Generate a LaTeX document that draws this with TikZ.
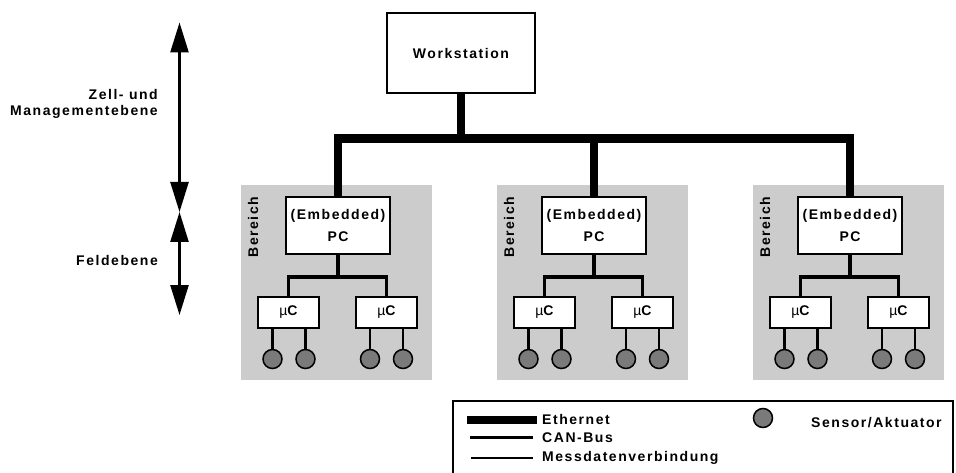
\documentclass[tikz,border=0pt]{standalone}
\usepackage{fontspec}
\setmainfont{Liberation Sans}[LetterSpace=11]
\usetikzlibrary{arrows.meta}
\definecolor{areagray}{HTML}{CCCCCC}
\definecolor{sensorgray}{HTML}{7A7A7A}
\begin{document}
\begin{tikzpicture}[x=1pt,y=-1pt,
  every node/.style={font=\fontsize{14}{16.5}\selectfont\bfseries, inner sep=0pt},
  box/.style={draw, line width=2pt, fill=white},
  area/.style={fill=areagray, draw=none},
  sensor/.style={circle, draw, line width=1.5pt, fill=sensorgray, minimum size=19pt},
  eth/.style={line width=8.5pt, line join=miter},
  can/.style={line width=3.5pt},
  mess/.style={line width=2.5pt},
  level/.style={line width=2.5pt, {Triangle[length=30pt,width=18pt]}-{Triangle[length=30pt,width=18pt]}},
  lbl/.style={align=right, anchor=east}
]
\useasboundingbox (0,0) rectangle (956,473);
\clip (0,0) rectangle (956,473);

% workstation
\node[box, minimum width=148pt, minimum height=80pt] (ws) at (461,53) {Workstation};
\coordinate (bus) at (461,138.5);

% three field areas
\foreach \i/\dx in {1/0,2/256,3/512}{
  \node[area, minimum width=191pt, minimum height=195pt] (area\i) at (336.5+\dx,282.5) {};
  \node[rotate=90] (ber\i) at (253+\dx,227) {Bereich};
  \node[box, minimum width=104pt, minimum height=57pt, align=center,
        font=\fontsize{14}{22}\selectfont\bfseries] (pc\i) at (338+\dx,225.5) {(Embedded)\\PC};
  \node[box, minimum width=61pt, minimum height=31pt] (ucl\i) at (288.5+\dx,312.5) {{\mdseries µ}C};
  \node[box, minimum width=61pt, minimum height=31pt] (ucr\i) at (386.5+\dx,312.5) {{\mdseries µ}C};
  \coordinate (can\i) at (338+\dx,277);
  \node[sensor] (s\i a) at (272.5+\dx,359) {};
  \node[sensor] (s\i b) at (305.5+\dx,359) {};
  \node[sensor] (s\i c) at (370+\dx,359) {};
  \node[sensor] (s\i d) at (403+\dx,359) {};
  % CAN bus
  \draw[can] (pc\i.south) -- (can\i);
  \draw[can, line join=miter] (ucl\i.north) -- (ucl\i.north |- can\i) -- (ucr\i.north |- can\i) -- (ucr\i.north);
  % measurement links
  \draw[mess] (s\i a.north) -- (s\i a.north |- ucl\i.south);
  \draw[mess] (s\i b.north) -- (s\i b.north |- ucl\i.south);
  \draw[mess] (s\i c.north) -- (s\i c.north |- ucr\i.south);
  \draw[mess] (s\i d.north) -- (s\i d.north |- ucr\i.south);
}

% Ethernet
\draw[eth] (ws.south) -- (bus);
\draw[eth] (pc1.north) -- (pc1.north |- bus) -- (pc3.north |- bus) -- (pc3.north);
\draw[eth] (pc2.north |- bus) -- (pc2.north);

% level arrows
\coordinate (lvtop) at (179.5,22.5);
\coordinate (lvmid) at (179.5,212);
\coordinate (lvbot) at (179.5,315);
\draw[level] (lvtop) -- (lvmid);
\draw[level] (lvmid) -- (lvbot);
\node[lbl] (zell) at (158,104) {Zell- und\\Managementebene};
\node[lbl] (feld) at (158,260.5) {Feldebene};

% legend
\node[draw, line width=2pt, minimum width=500pt, minimum height=90pt] (legend) at (703,446) {};
\coordinate (eA) at (467,419.5); \coordinate (eB) at (537,419.5);
\coordinate (cA) at (470,437.5); \coordinate (cB) at (533,437.5);
\coordinate (mA) at (471,458); \coordinate (mB) at (533,458);
\draw[line width=8pt] (eA) -- (eB);
\draw[can] (cA) -- (cB);
\draw[mess] (mA) -- (mB);
\node[anchor=west] (leth) at (542,419.5) {Ethernet};
\node[anchor=west] (lcan) at (542,438) {CAN-Bus};
\node[anchor=west] (lmess) at (542,458) {Messdatenverbindung};
\node[sensor] (lsens) at (763,418) {};
\node[anchor=west] (lsenst) at (811,423) {Sensor/Aktuator};
\end{tikzpicture}
\end{document}
